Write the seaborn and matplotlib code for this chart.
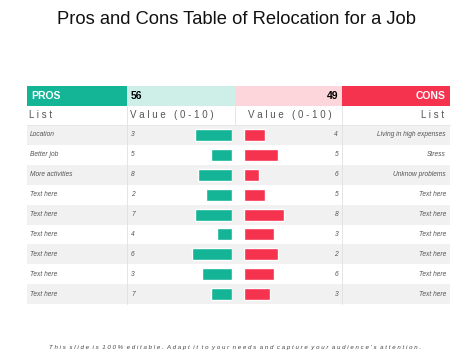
import matplotlib
matplotlib.use("Agg")
import numpy as np
import pandas as pd
import seaborn as sns
import matplotlib.pyplot as plt
from matplotlib.patches import Rectangle

sns.set_style("white")
plt.rcParams['font.family'] = ['Liberation Sans', 'DejaVu Sans']

# data
pros_labels = ["Location", "Better job", "More activities", "Text here", "Text here",
               "Text here", "Text here", "Text here", "Text here"]
pros_values = [3, 5, 8, 2, 7, 4, 6, 3, 7]
pros_bar_len = [3.7, 2.1, 3.4, 2.6, 3.7, 1.5, 4.0, 3.0, 2.1]

cons_labels = ["Living in high expenses", "Stress", "Unknow problems", "Text here", "Text here",
               "Text here", "Text here", "Text here", "Text here"]
cons_values = [4, 5, 6, 5, 8, 3, 2, 6, 3]
cons_bar_len = [2.1, 3.4, 1.5, 2.1, 4.0, 3.0, 3.4, 3.0, 2.6]

pros_total = 56
cons_total = 49

GREEN = "#14b497"
LIGHT_GREEN = "#cdefe7"
RED = "#f6334f"
LIGHT_RED = "#fdd6db"
BAND = "#f1f1f1"
GREY_TXT = "#555555"

W, H = 474, 355
fig = plt.figure(figsize=(W / 100, H / 100), dpi=100)

# background axes in pixel coordinates for the table layout
bg = fig.add_axes([0, 0, 1, 1])
bg.set_xlim(0, W)
bg.set_ylim(H, 0)
bg.axis("off")

x0, x1, xm, x2, x3 = 27, 127, 235, 342, 450
top, hdr_h, sub_h = 86, 19.5, 19.5
row_top = top + hdr_h + sub_h
row_h = 19.9
n = len(pros_labels)
row_bot = row_top + n * row_h

bg.text(W / 2, 20, "Pros and Cons Table of Relocation for a Job", ha="center", va="center",
        fontsize=13.2, color="#111111")

# header row
for xa, xb, c in [(x0, x1, GREEN), (x1, xm, LIGHT_GREEN), (xm, x2, LIGHT_RED), (x2, x3, RED)]:
    bg.add_patch(Rectangle((xa, top), xb - xa, hdr_h, color=c, lw=0))
hy = top + hdr_h / 2
bg.text(x0 + 4, hy, "PROS", color="white", fontweight="bold", fontsize=7.5, va="center")
bg.text(x1 + 4, hy, str(pros_total), color="black", fontweight="bold", fontsize=7.5, va="center")
bg.text(x2 - 4, hy, str(cons_total), color="black", fontweight="bold", fontsize=7.5, va="center", ha="right")
bg.text(x3 - 4, hy, "CONS", color="white", fontweight="bold", fontsize=7.5, va="center", ha="right")

# sub header
sy = top + hdr_h + sub_h / 2
spaced = dict(color=GREY_TXT, fontsize=7, va="center")
bg.text(x0 + 2, sy, "L i s t", **spaced)
bg.text(x1 + 3, sy, "V a l u e   ( 0 - 1 0 )", **spaced)
bg.text(xm + 13, sy, "V a l u e   ( 0 - 1 0 )", **spaced)
bg.text(x3 - 6, sy, "L i s t", ha="right", **spaced)

# row bands
for i in range(n):
    if i % 2 == 0:
        bg.add_patch(Rectangle((x0, row_top + i * row_h), x3 - x0, row_h, color=BAND, lw=0))
bg.plot([x0, x3], [row_top, row_top], color="#e4e4e4", lw=0.6)
for xv in (x1, x2):
    bg.plot([xv, xv], [top + hdr_h, row_bot], color="#e0e0e0", lw=0.6)
bg.plot([xm, xm], [top + hdr_h, row_top], color="#e0e0e0", lw=0.6)

row_txt = dict(color=GREY_TXT, fontsize=4.8, style="italic", va="center")
for i in range(n):
    y = row_top + (i + 0.5) * row_h
    bg.text(x0 + 3, y, pros_labels[i], **row_txt)
    bg.text(x1 + 4, y, str(pros_values[i]), **row_txt)
    bg.text(x2 - 4, y, str(cons_values[i]), ha="right", **row_txt)
    bg.text(x3 - 4, y, cons_labels[i], ha="right", **row_txt)

footer = "This slide is 100% editable. Adapt it to your needs and capture your audience's attention."
footer = "  ".join(" ".join(w) for w in footer.split(" "))
bg.text(W / 2 - 2, 348, footer, ha="center", va="center", fontsize=4.4, style="italic", color="#444444")

# bar axes (1 unit = 10 px)
def fx(px):
    return px / W

def fy(py):
    return 1 - py / H

ax_h = (row_bot - row_top) / H
pros_df = pd.DataFrame({"row": [str(i) for i in range(n)], "len": pros_bar_len})
cons_df = pd.DataFrame({"row": [str(i) for i in range(n)], "len": cons_bar_len})

ax_l = fig.add_axes([fx(132), fy(row_bot), 100 / W, ax_h])
sns.barplot(data=pros_df, x="len", y="row", orient="h", color=GREEN, saturation=1, width=0.6, ax=ax_l)
ax_l.set_xlim(10, 0)

ax_r = fig.add_axes([fx(244), fy(row_bot), 100 / W, ax_h])
sns.barplot(data=cons_df, x="len", y="row", orient="h", color=RED, saturation=1, width=0.6, ax=ax_r)
ax_r.set_xlim(0, 10)

for ax in (ax_l, ax_r):
    ax.set_ylim(n - 0.5, -0.5)
    ax.axis("off")
    ax.patch.set_alpha(0)

fig.savefig("out.png", dpi=100)
